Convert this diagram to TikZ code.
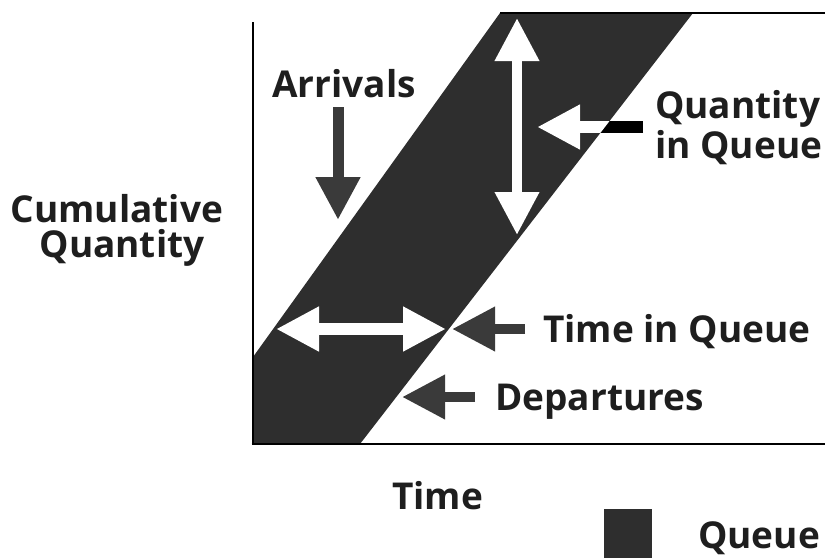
\documentclass[tikz,border=0pt]{standalone}
\usepackage{fontspec}
\setmainfont{Open Sans}
\usetikzlibrary{arrows.meta}
\definecolor{band}{HTML}{2E2E2E}
\definecolor{pointer}{HTML}{3A3A3A}
\definecolor{ink}{HTML}{1E1E1E}
\tikzset{
  lbl/.style={inner sep=0pt, anchor=base west, text=ink, font=\fontsize{37}{40}\selectfont\bfseries},
  axis/.style={draw=black, line width=2.6pt},
  blockarrow/.style={line width=#1, -{Triangle[length=43pt,width=42pt]}},
  dblarrow/.style={line width=#1, {Triangle[length=43pt,width=42pt]}-{Triangle[length=43pt,width=42pt]}},
}
\begin{document}
\begin{tikzpicture}[x=1pt,y=-1pt]
  \useasboundingbox (0,0) rectangle (825,558);

  % queue band between the arrivals and departures curves
  \coordinate (a0) at (253,357);
  \coordinate (a1) at (500,13);
  \coordinate (d1) at (693,13);
  \coordinate (d0) at (360,444);
  \coordinate (o)  at (253,444);
  \fill[band] (a0) -- (a1) -- (d1) -- (d0) -- (o) -- cycle;

  % axes and top border
  \draw[axis] (253,22) -- (253,445.3);
  \draw[axis] (251.7,444) -- (825,444);
  \draw[draw=black, line width=2pt] (a1) -- (825,13);

  % white measurement arrows inside the band
  \coordinate (qtop) at (517,18);
  \coordinate (qbot) at (517,235);
  \draw[white, dblarrow=10pt] (qtop) -- (qbot);
  \coordinate (tleft)  at (276,329);
  \coordinate (tright) at (446,329);
  \draw[white, dblarrow=12pt] (tleft) -- (tright);

  % pointer for the quantity label: white on the band, black off it
  \coordinate (qptip) at (537,127);
  \coordinate (qptail) at (643,127);
  \draw[black, line width=12pt, -{Triangle[length=43pt,width=42pt]}] (qptail) -- (qptip);
  \begin{scope}
    \clip (a0) -- (a1) -- (d1) -- (d0) -- (o) -- cycle;
    \draw[white, line width=12pt, -{Triangle[length=43pt,width=42pt]}] (qptail) -- (qptip);
  \end{scope}

  % grey pointers
  \coordinate (arrtail) at (338,107);
  \coordinate (arrtip)  at (338,220);
  \draw[pointer, blockarrow=11pt] (arrtail) -- (arrtip);
  \coordinate (tqtail) at (525,329);
  \coordinate (tqtip)  at (452,329);
  \draw[pointer, blockarrow=10pt] (tqtail) -- (tqtip);
  \coordinate (deptail) at (475,397);
  \coordinate (deptip)  at (402,397);
  \draw[pointer, blockarrow=10pt] (deptail) -- (deptip);

  % labels
  \node[lbl] (arrivals) at (272,97) {Arrivals};
  \node[lbl] (qty1) at (655,118) {Quantity};
  \node[lbl] (qty2) at (655,158) {in Queue};
  \node[lbl] (tiq) at (543,342) {Time in Queue};
  \node[lbl] (dep) at (495,410) {Departures};
  \node[lbl, anchor=base] (cum1) at (117,222) {Cumulative};
  \node[lbl, anchor=base] (cum2) at (122,257) {Quantity};
  \node[lbl] (time) at (392,509) {Time};

  % legend
  \fill[band] (604,509) rectangle (652,558);
  \node[lbl] (legend) at (698,548) {Queue};
\end{tikzpicture}
\end{document}
